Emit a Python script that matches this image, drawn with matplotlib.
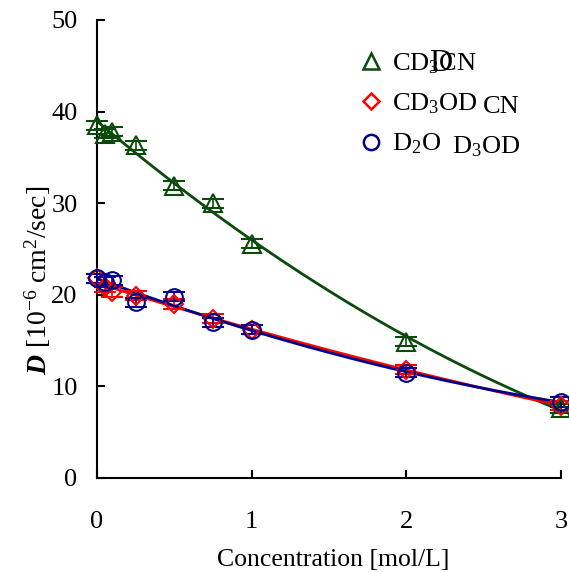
import numpy as np
import matplotlib
matplotlib.use("Agg")
import matplotlib.pyplot as plt
from matplotlib.lines import Line2D

plt.rcParams['font.family'] = ['Liberation Serif', 'DejaVu Serif']
plt.rcParams['mathtext.fontset'] = 'custom'
plt.rcParams['mathtext.rm'] = 'Liberation Serif'
plt.rcParams['mathtext.it'] = 'Liberation Serif:italic'
plt.rcParams['mathtext.bf'] = 'Liberation Serif:bold:italic'

# data
conc = [0.0, 0.05, 0.1, 0.25, 0.5, 0.75, 1.0, 2.0, 3.0]
d_cd3cn = [38.5, 37.6, 37.8, 36.3, 31.9, 30.0, 25.6, 14.9, 7.6]
d_cd3od = [21.8, 20.8, 20.3, 19.9, 19.0, 17.4, 16.2, 11.8, 7.9]
d_d2o = [21.8, 21.4, 21.6, 19.2, 19.8, 17.0, 16.2, 11.5, 8.3]
err = 0.5

series = [
    ("CD$_3$CN", d_cd3cn, '^', '#0b4a0b'),
    ("CD$_3$OD", d_cd3od, 'D', '#ff0000'),
    ("D$_2$O", d_d2o, 'o', '#00008b'),
]

W, H = 569, 572
fig = plt.figure(figsize=(W / 100, H / 100), dpi=100)
ax = fig.add_axes([97 / W, 1 - 478 / H, (561 - 97) / W, (478 - 20) / H])

xs = np.linspace(0, 3, 200)
handles = []
for label, vals, mk, col in series:
    ms = 13 if mk == '^' else (9 if mk == 'D' else 12)
    ax.errorbar(conc, vals, yerr=err, fmt=mk, mfc='none', mec=col, ms=ms,
                mew=1.5, ecolor=col, elinewidth=1.2, capsize=8, capthick=1.5,
                clip_on=False, zorder=3)
    # 2nd order trendline as in the original
    p = np.polyfit(conc, vals, 2)
    ax.plot(xs, np.polyval(p, xs), color=col, lw=2, zorder=2)
    handles.append(Line2D([], [], ls='none', marker=mk, mfc='none', mec=col,
                          ms=ms - 1, mew=1.8, label=label))

ax.set_xlim(0, 3)
ax.set_ylim(0, 50)
ax.set_xticks([0, 1, 2, 3])
ax.set_yticks([0, 10, 20, 30, 40, 50])
ax.spines['top'].set_visible(False)
ax.spines['right'].set_visible(False)
ax.spines['left'].set_linewidth(1.5)
ax.spines['bottom'].set_linewidth(1.5)
ax.tick_params(axis='both', direction='in', length=6, width=1.5, labelsize=19)
ax.tick_params(axis='x', pad=24)
ax.tick_params(axis='y', pad=14)

ax.set_xlabel("Concentration [mol/L]", fontsize=18.5)
ax.xaxis.set_label_coords(333 / W, 1 - 566 / H, transform=fig.transFigure)
ax.xaxis.label.set_va('baseline')
ax.set_ylabel(r"$\mathbf{D}$ [10$^{-6}$ cm$^{2}$/sec]", fontsize=20)
ax.yaxis.set_label_coords(38 / W, 1 - 280 / H, transform=fig.transFigure)
ax.yaxis.label.set_va('center')

leg = ax.legend(handles=handles, loc='upper left', bbox_to_anchor=(355 / W, 1 - 51 / H),
                bbox_transform=fig.transFigure, frameon=False, fontsize=19,
                handletextpad=0.2, labelspacing=0.6, handlelength=1.2,
                borderpad=0, borderaxespad=0)

# overlapping leftover labels seen in the original
fig.text(429 / W, 1 - 71 / H, "D", fontsize=23, va='baseline')
fig.text(483 / W, 1 - 113 / H, "CN", fontsize=19, va='baseline')
fig.text(452 / W, 1 - 153 / H, "D$_3$OD", fontsize=19, va='baseline')

fig.savefig("out.png", dpi=100)
